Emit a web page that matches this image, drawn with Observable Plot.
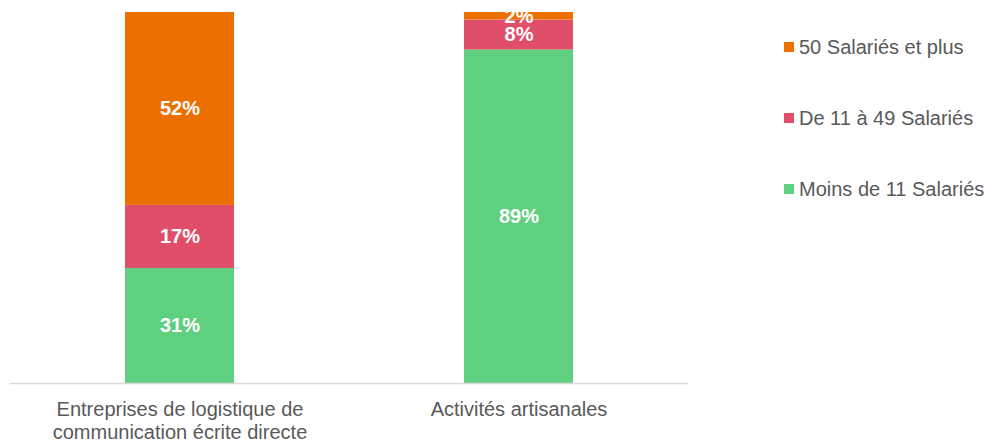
<!DOCTYPE html>
<html><head><meta charset="utf-8">
<script src="https://cdn.jsdelivr.net/npm/d3@7"></script>
<script src="https://cdn.jsdelivr.net/npm/@observablehq/plot@0.6"></script>
<style>
body{margin:0;background:#fff;font-family:"Liberation Sans",Arial,sans-serif;}
#wrap{position:relative;width:989px;height:440px;overflow:hidden;}
#legend{position:absolute;left:784px;top:0;}
.item{position:absolute;left:0;white-space:nowrap;font-size:20px;color:#595959;}
.sw{position:absolute;left:0;width:10px;height:10px;}
.lt{position:absolute;left:15px;line-height:20px;}
</style></head>
<body><div id="wrap"><div id="chart"></div><div id="legend"></div></div>
<script>
const categories = ["Entreprises de logistique de communication écrite directe", "Activités artisanales"];
const tickLabels = ["Entreprises de logistique de\ncommunication écrite directe", "Activités artisanales"];
const series = ["Moins de 11 Salariés", "De 11 à 49 Salariés", "50 Salariés et plus"];
const colors = ["#5fcf80", "#e04e6a", "#ec7000"];
const moins11 = [31, 89];
const de11a49 = [17, 8];
const plus50 = [52, 2];
const legendOrder = ["50 Salariés et plus", "De 11 à 49 Salariés", "Moins de 11 Salariés"];

const values = [moins11, de11a49, plus50];
const data = [];
series.forEach((s, i) => categories.forEach((c, j) => data.push({cat: c, series: s, value: values[i][j]})));

const stackOpts = {x: "cat", y: "value", z: "series", order: series, offset: "normalize"};
const chart = Plot.plot({
  width: 700, height: 440,
  marginLeft: 10, marginRight: 12, marginTop: 12, marginBottom: 57,
  style: {fontFamily: "'Liberation Sans', Arial, sans-serif", background: "transparent"},
  x: {domain: categories, paddingInner: 0.678, paddingOuter: 0.339, label: null},
  y: {domain: [0, 1], axis: null},
  color: {domain: series, range: colors},
  marks: [
    Plot.barY(data, Plot.stackY({...stackOpts, fill: "series"})),
    Plot.ruleY([0], {stroke: "#d9d9d9", strokeWidth: 1.5}),
    Plot.axisX({tickSize: 0, tickPadding: 16, fontSize: 20, fill: "#595959", lineHeight: 1.15,
      tickFormat: (d) => tickLabels[categories.indexOf(d)]}),
    Plot.text(data, Plot.stackY({...stackOpts, text: (d) => d.value + "%", fill: "white", fontSize: 20, fontWeight: "bold"}))
  ]
});
document.getElementById("chart").appendChild(chart);

const rowY = [47, 118, 189];
const leg = document.getElementById("legend");
legendOrder.forEach((s, i) => {
  const it = document.createElement("div");
  it.className = "item";
  it.style.top = (rowY[i] - 10) + "px";
  const sw = document.createElement("div");
  sw.className = "sw"; sw.style.top = "5px"; sw.style.background = colors[series.indexOf(s)];
  const t = document.createElement("div");
  t.className = "lt"; t.textContent = s;
  it.appendChild(sw); it.appendChild(t);
  leg.appendChild(it);
});
</script></body></html>
